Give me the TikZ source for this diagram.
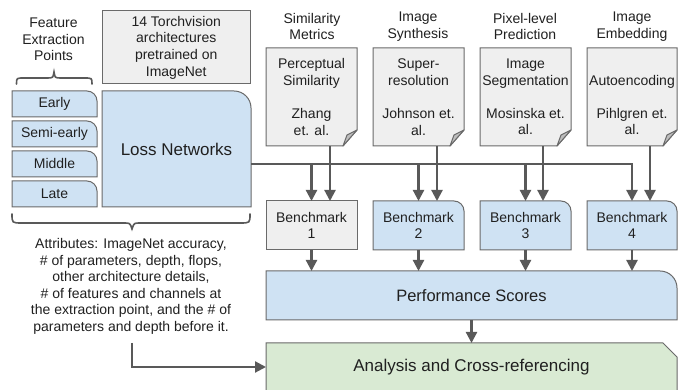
\documentclass[tikz,border=0pt]{standalone}
\usepackage{fontspec}
\setmainfont{Liberation Sans}
\usetikzlibrary{arrows.meta,backgrounds,calc}
\definecolor{boxgray}{HTML}{EFEFEF}
\definecolor{boxblue}{HTML}{CFE2F3}
\definecolor{boxgreen}{HTML}{D9EAD3}
\definecolor{edgecol}{HTML}{6A6A6A}
\definecolor{conn}{HTML}{595959}
\definecolor{flapcol}{HTML}{BDBDBD}
\definecolor{txt}{HTML}{202020}
\tikzset{
  base/.style={inner sep=0pt, outer sep=0pt, text=txt, align=center, font=\fontsize{14}{16.6}\selectfont},
  boxline/.style={draw=edgecol, line width=1pt},
  arr/.style={draw=conn, line width=2.2pt, -{Triangle[width=11pt,length=11pt]}},
  bracel/.style={draw=conn, line width=1.6pt, line cap=round},
}
\newcommand\roundtr[3]{%
  \begin{pgfonlayer}{background}
  \draw[boxline, fill=#3] (#1.south west) -- (#1.north west) -- ([xshift=-#2]#1.north east) arc[start angle=90,end angle=0,radius=#2] -- (#1.south east) -- cycle;
  \end{pgfonlayer}}
\newcommand\paperbox[2]{%
  \begin{pgfonlayer}{background}
  \draw[boxline, fill=#2] (#1.south west) -- (#1.north west) -- (#1.north east) -- ([yshift=16pt]#1.south east) -- ([xshift=-14pt]#1.south east) -- cycle;
  \draw[boxline, fill=flapcol, line join=round] ([xshift=-14pt]#1.south east) -- ([xshift=-10pt,yshift=11pt]#1.south east) -- ([yshift=16pt]#1.south east) -- cycle;
  \end{pgfonlayer}}
\begin{document}
\begin{tikzpicture}[x=1pt,y=1pt]
\useasboundingbox (0,0) rectangle (683,390);
\begin{pgfonlayer}{background}
\fill[white] (0,0) rectangle (683,390);
\end{pgfonlayer}

% left column
\node[base] (fep) at (53.5,350.5) {Feature\\Extraction\\Points};
\draw[bracel] (16.5,306) .. controls (16.5,312) .. (24,312) -- (47,312) .. controls (53,312) .. (54,318) .. controls (55,312) .. (61,312) -- (84,312) .. controls (92,312) .. (92,306);

\node[base, minimum width=85pt, minimum height=26pt] (early) at (54.5,286) {Early};
\node[base, minimum width=85pt, minimum height=26pt] (semi) at (54.5,256) {Semi-early};
\node[base, minimum width=85pt, minimum height=26pt] (middle) at (54.5,226) {Middle};
\node[base, minimum width=85pt, minimum height=26pt] (late) at (54.5,196) {Late};
\roundtr{early}{10pt}{boxblue}
\roundtr{semi}{10pt}{boxblue}
\roundtr{middle}{10pt}{boxblue}
\roundtr{late}{10pt}{boxblue}

\node[base, boxline, fill=boxgray, minimum width=148.5pt, minimum height=73pt] (torch) at (176.25,342.5) {14 Torchvision\\architectures\\pretrained on\\ImageNet};
\node[base, minimum width=149pt, minimum height=116pt, font=\fontsize{17}{20}\selectfont] (loss) at (176.5,241) {Loss Networks};
\roundtr{loss}{17pt}{boxblue}

\draw[bracel] (12,176) .. controls (12,167) .. (22,167) -- (124,167) .. controls (130,167) .. (132,161) .. controls (134,167) .. (140,167) -- (240,167) .. controls (250,167) .. (250,176);

\node[base] (attr) at (131,103.7) {Attributes: ImageNet accuracy,\\\# of parameters, depth, flops,\\other architecture details,\\\# of features and channels at\\the extraction point, and the \# of\\parameters and depth before it.};

% titles
\node[base] (t1) at (312,363.5) {Similarity\\Metrics};
\node[base] (t2) at (418,363.5) {Image\\Synthesis};
\node[base] (t3) at (525,363.5) {Pixel-level\\Prediction};
\node[base] (t4) at (632,363.5) {Image\\Embedding};

% papers
\node[base, minimum width=91pt, minimum height=98pt] (p1) at (311.5,293) {Perceptual\\Similarity\\[16.6pt]Zhang\\et. al.};
\node[base, minimum width=91pt, minimum height=98pt] (p2) at (418.5,293) {Super-\\resolution\\[16.6pt]Johnson et.\\al.};
\node[base, minimum width=91pt, minimum height=98pt] (p3) at (525.5,293) {Image\\Segmentation\\[16.6pt]Mosinska et.\\al.};
\node[base, minimum width=90pt, minimum height=98pt] (p4) at (632,293) {\phantom{A}\\Autoencoding\\[16.6pt]Pihlgren et.\\al.};
\paperbox{p1}{boxgray}
\paperbox{p2}{boxgray}
\paperbox{p3}{boxgray}
\paperbox{p4}{boxgray}

% benchmarks
\node[base, boxline, fill=boxgray, minimum width=91pt, minimum height=49pt] (b1) at (311.5,164.5) {Benchmark\\1};
\node[base, minimum width=91pt, minimum height=49pt] (b2) at (418.5,164.5) {Benchmark\\2};
\node[base, minimum width=91pt, minimum height=49pt] (b3) at (525.5,164.5) {Benchmark\\3};
\node[base, minimum width=90pt, minimum height=49pt] (b4) at (632,164.5) {Benchmark\\4};
\roundtr{b2}{10pt}{boxblue}
\roundtr{b3}{10pt}{boxblue}
\roundtr{b4}{10pt}{boxblue}

\node[base, minimum width=411pt, minimum height=49pt, font=\fontsize{16.5}{20}\selectfont] (perf) at (471.5,94.5) {Performance Scores};
\roundtr{perf}{17pt}{boxblue}

\node[base, minimum width=411pt, minimum height=48pt, font=\fontsize{17}{20}\selectfont] (ana) at (471.5,23) {\raisebox{-4pt}{Analysis and Cross-referencing}};
\begin{pgfonlayer}{background}
\draw[boxline, fill=boxgreen] (ana.south west) -- (ana.north west) -- ([xshift=-14pt]ana.north east) -- ([yshift=-14pt]ana.north east) -- (ana.south east) -- cycle;
\end{pgfonlayer}

% connectors
\coordinate (bus) at (251,226);
\draw[arr] (bus) -| (b4.north);
\foreach \b in {b1,b2,b3} \draw[arr] (bus -| \b.north) -- (\b.north);
\draw[arr] ([xshift=18.5pt]p1.south) -- ([xshift=18.5pt]p1.south |- b1.north);
\draw[arr] ([xshift=18.5pt]p2.south) -- ([xshift=18.5pt]p2.south |- b2.north);
\draw[arr] ([xshift=17.5pt]p3.south) -- ([xshift=17.5pt]p3.south |- b3.north);
\draw[arr] ([xshift=18pt]p4.south) -- ([xshift=18pt]p4.south |- b4.north);
\foreach \b in {b1,b2,b3,b4} \draw[arr] (\b.south) -- (\b.south |- perf.north);
\draw[arr] (perf.south) -- (ana.north);
\coordinate (astart) at (132,47);
\draw[arr] (astart) |- (ana.west);
\end{tikzpicture}
\end{document}
